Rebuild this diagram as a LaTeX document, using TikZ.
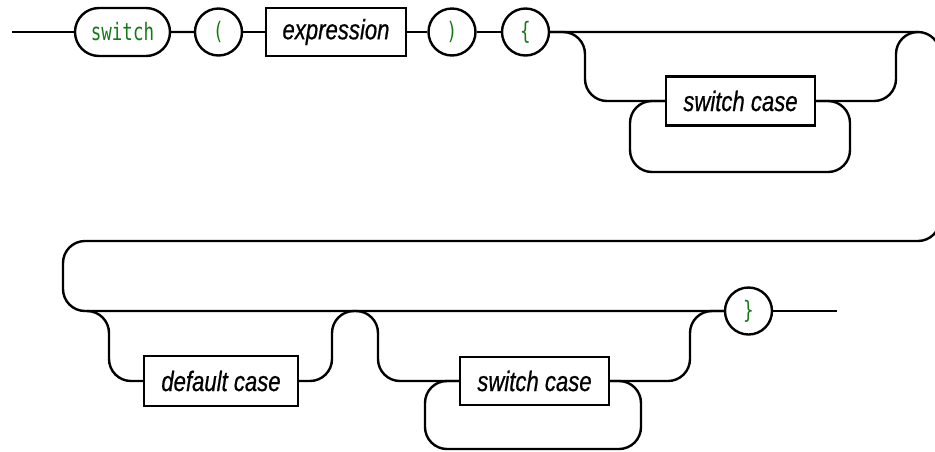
\documentclass[tikz,border=0pt]{standalone}
\usepackage{fontspec}
\usetikzlibrary{shapes.misc}
\newfontfamily\ntfont[FakeStretch=0.79,FakeBold=0.6]{Liberation Sans}
\newfontfamily\tmfont[FakeStretch=0.73]{DejaVu Sans Mono}
\definecolor{termgreen}{RGB}{22,120,22}
\begin{document}
\begin{tikzpicture}[x=1pt,y=-1pt,line width=2.4pt,
  rail/.style={draw,rounded corners=22},
  term/.style={draw,rounded rectangle,minimum height=48,minimum width=95,inner sep=0pt,
    font=\tmfont\fontsize{24}{28}\selectfont,text=termgreen},
  tcirc/.style={draw,circle,minimum size=47,inner sep=0pt,
    font=\tmfont\fontsize{24}{28}\selectfont,text=termgreen},
  nterm/.style={draw,rectangle,minimum height=48,inner sep=0pt,
    font=\ntfont\itshape\fontsize{28}{32}\selectfont}]
\useasboundingbox (0,0) rectangle (935,451);
\clip (0,0) rectangle (935,451);
% row 1 nodes
\coordinate (start) at (12,32);
\node[term] (sw) at (122.5,32) {switch};
\node[tcirc] (lp) at (218.5,32) {(};
\node[nterm,minimum width=140] (expr) at (336,32) {expression};
\node[tcirc] (rp) at (452,32) {)};
\node[tcirc] (lb) at (525.5,32) {\{};
\node[nterm,minimum width=149,minimum height=49] (sc1) at (740.5,101) {switch case};
% row 2 nodes
\coordinate (j2) at (87,311);
\node[nterm,minimum width=154,minimum height=50] (dc) at (221,381) {default case};
\node[nterm,minimum width=149] (sc2) at (534.5,381) {switch case};
\node[tcirc] (rb) at (748.5,311) {\}};
\coordinate (end) at (837,311);
% row 1 connectors
\draw (start) -- (sw);
\draw (sw) -- (lp);
\draw (lp) -- (expr);
\draw (expr) -- (rp);
\draw (rp) -- (lb);
\draw[rail] (lb.east) -- (940,32) -- (940,241) -- (63,241) -- (63,311) -- (rb.west);
\draw[rail] (lb.east) -- (585,32) -- (585,101) -- (sc1.west);
\draw[rail] (sc1.east) -- (896,101) -- (896,32) -- (918,32);
\draw[rail] (sc1.east) -- (850,101) -- (850,172) -- (630,172) -- (630,101) -- (sc1.west);
% row 2 connectors
\draw[rail] (j2) -- (109,311) -- (109,381) -- (dc.west);
\draw[rail] (dc.east) -- (332,381) -- (332,311) -- (378,311) -- (378,381) -- (sc2.west);
\draw[rail] (sc2.east) -- (690,381) -- (690,311) -- (rb.west);
\draw[rail] (sc2.east) -- (641,381) -- (641,449) -- (425,449) -- (425,381) -- (sc2.west);
\draw (rb) -- (end);
\end{tikzpicture}
\end{document}
